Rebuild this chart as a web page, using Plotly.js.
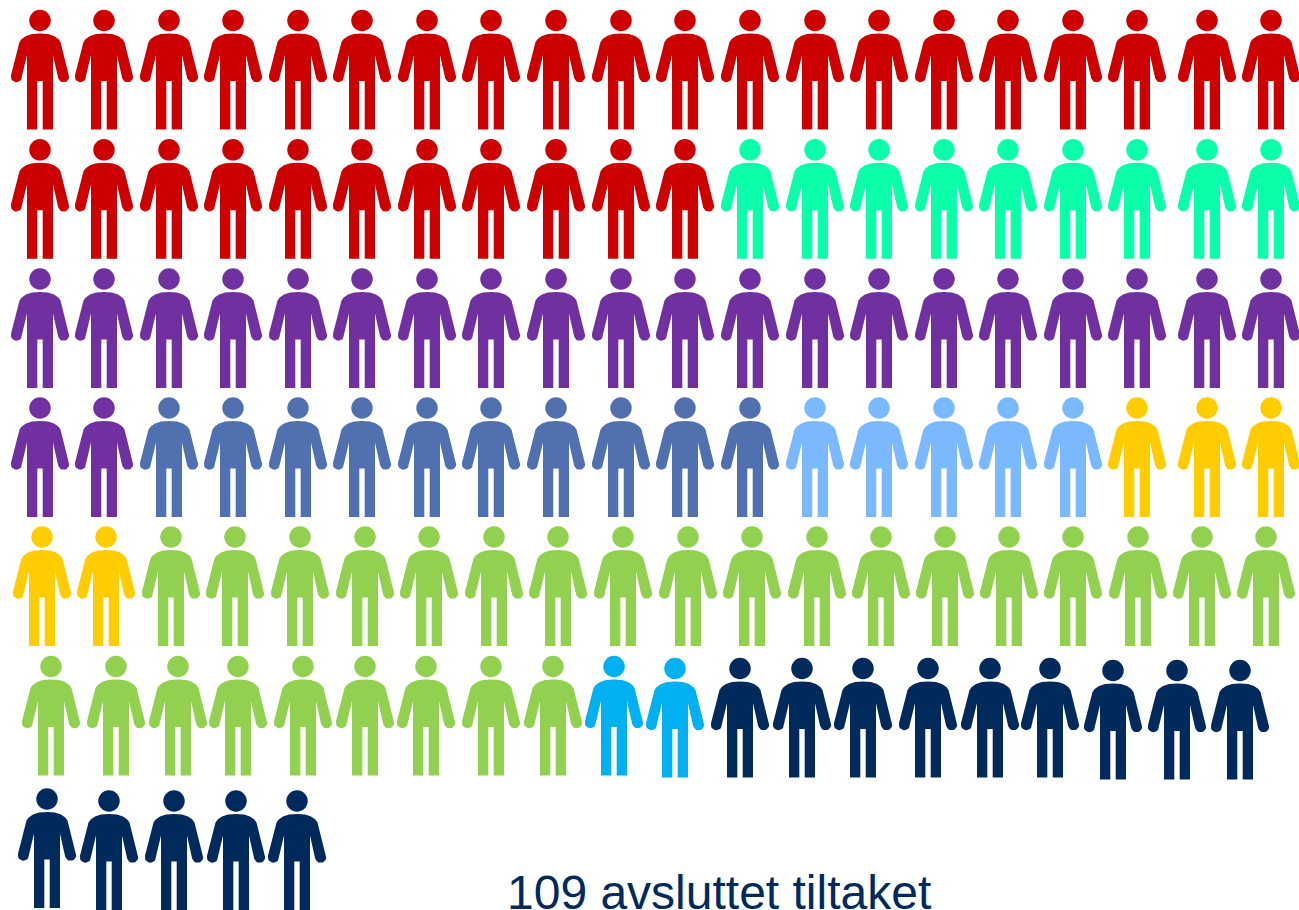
<!DOCTYPE html>
<html><head><meta charset="utf-8">
<script src="https://cdn.plot.ly/plotly-3.0.0.min.js"></script>
<style>html,body{margin:0;padding:0;background:#fff}</style></head>
<body><div id="chart"></div>
<script>
// one person per entry: every row lists its figures' centre x and head-top y
var rowX = [
 [40,104,169,233,298,362,427,491,556,621,685,750,815,879,944,1008,1073,1137,1207,1271],
 [40,104,169,233,298,362,427,491,556,621,685,750,815,879,944,1008,1073,1137,1207,1271],
 [40,104,169,233,298,362,427,491,556,621,685,750,815,879,944,1008,1073,1137,1207,1271],
 [40,104,169,233,298,362,427,491,556,621,685,750,815,879,944,1008,1073,1137,1207,1271],
 [42,106,171,235,300,365,429,494,558,623,688,752,817,881,945,1009,1073,1138,1202,1266],
 [51,116,178,238,303,365,426,491,553,614,675,740,802,863,928,990,1050,1113,1177,1240],
 [47,109,174,236,297]
];
var rowTop = [
 [10,10,10,10,10,10,10,10,10,10,10,10,10,10,10,10,10,10,10,10],
 [139.3,139.3,139.3,139.3,139.3,139.3,139.3,139.3,139.3,139.3,139.3,139.3,139.3,139.3,139.3,139.3,139.3,139.3,139.3,139.3],
 [268.5,268.5,268.5,268.5,268.5,268.5,268.5,268.5,268.5,268.5,268.5,268.5,268.5,268.5,268.5,268.5,268.5,268.5,268.5,268.5],
 [397.5,397.5,397.5,397.5,397.5,397.5,397.5,397.5,397.5,397.5,397.5,397.5,397.5,397.5,397.5,397.5,397.5,397.5,397.5,397.5],
 [526.5,526.5,526.5,526.5,526.5,526.5,526.5,526.5,526.5,526.5,526.5,526.5,526.5,526.5,526.5,526.5,526.5,526.5,526.5,526.5],
 [656,656,656,656,656,656,656,656,656,656,658,658,658,658,658,658,658,660,660,660],
 [788.5,790.5,790.5,790.5,790.5]
];
var categories = ['Rød','Mint','Lilla','Blå','Lyseblå','Gul','Grønn','Cyan','Marine'];
var counts = [31,9,22,10,5,5,27,2,14];
var colors = ['#CC0000','#0AFFA8','#7030A0','#5070B0','#7AB8FF','#FFCC00','#92D050','#00B0F0','#002A5C'];
var caption = '109 avsluttet tiltaket';

// figure outline relative to the centre x and head top
function arc(cx,cy,r,a0,a1,n){var o=[];for(var i=0;i<=n;i++){var a=(a0+(a1-a0)*i/n)*Math.PI/180;o.push([cx+r*Math.cos(a),cy+r*Math.sin(a)]);}return o;}
var right = [[0,23.5],[8,24],[14,26],[18.3,29],[20.5,32]]
 .concat(arc(23.6,66.7,5.6,-15,165,10))
 .concat([[13,45],[13,119.5],[2.7,119.5],[2.7,71],[0,71]]);
var left = right.map(function(p){return [-p[0],p[1]];}).reverse();
var outline = right.concat(left);

var flatX=[],flatY=[];
rowX.forEach(function(r,i){r.forEach(function(x,j){flatX.push(x);flatY.push(rowTop[i][j]);});});

var traces=[],k=0;
categories.forEach(function(name,c){
  var bx=[],by=[],hx=[],hy=[];
  for(var n=0;n<counts[c];n++,k++){
    outline.forEach(function(p){bx.push(flatX[k]+p[0]);by.push(flatY[k]+p[1]);});
    bx.push(flatX[k]+outline[0][0]);by.push(flatY[k]+outline[0][1]);
    bx.push(null);by.push(null);
    hx.push(flatX[k]);hy.push(flatY[k]+10.5);
  }
  traces.push({type:'scatter',mode:'lines',x:bx,y:by,fill:'toself',fillcolor:colors[c],line:{width:0,color:colors[c]},hoverinfo:'skip',name:name,showlegend:false});
  traces.push({type:'scatter',mode:'markers',x:hx,y:hy,marker:{symbol:'circle',size:21.5,color:colors[c],line:{width:0}},hoverinfo:'name',name:name,showlegend:false});
});

var layout={width:1299,height:910,margin:{l:0,r:0,t:0,b:0},paper_bgcolor:'#fff',plot_bgcolor:'#fff',showlegend:false,
 xaxis:{range:[0,1299],visible:false,fixedrange:true},
 yaxis:{range:[910,0],visible:false,fixedrange:true},
 annotations:[{text:caption,x:719,y:908,xref:'x',yref:'y',xanchor:'center',yanchor:'bottom',yshift:-13,showarrow:false,font:{family:'Liberation Sans, Arial, sans-serif',size:48,color:'#002A5C'}}]};
Plotly.newPlot('chart',traces,layout,{displayModeBar:false,staticPlot:true});
</script></body></html>
